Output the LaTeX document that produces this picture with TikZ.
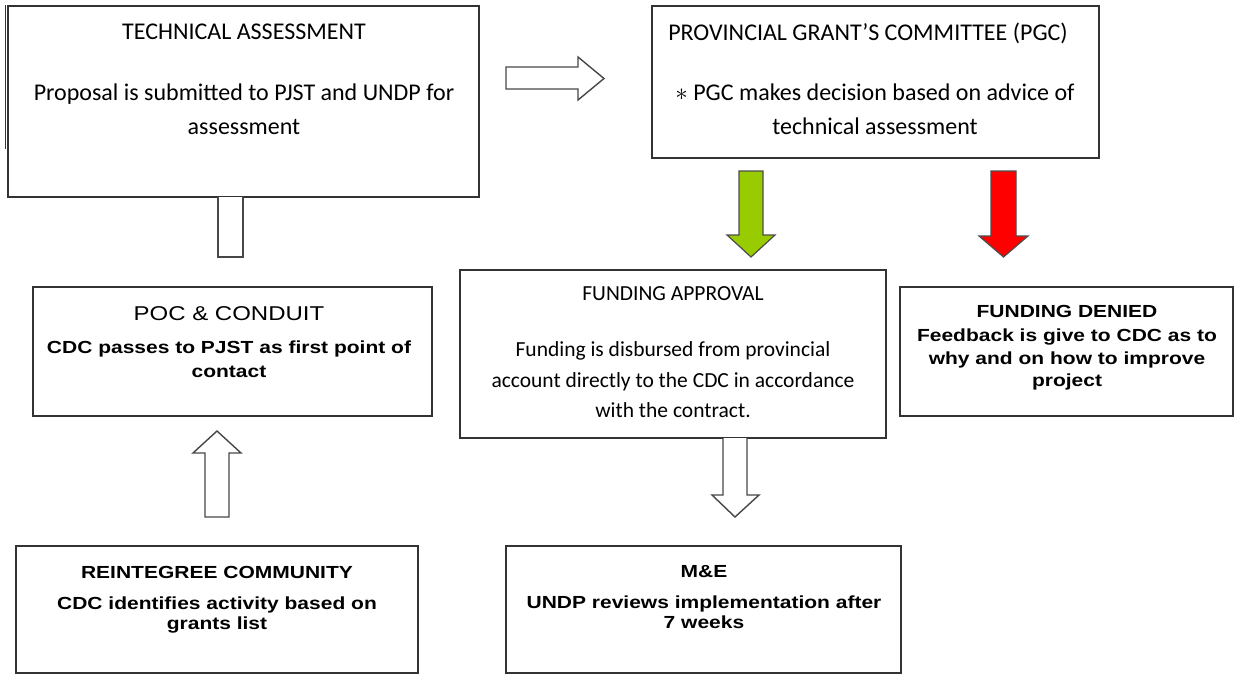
\documentclass[tikz,border=0pt]{standalone}
\usepackage{fontspec}
\setmainfont{Carlito}
\newfontfamily\calibri{Carlito}
\newfontfamily\arialw[FakeStretch=1.2]{Liberation Sans}
\usetikzlibrary{fit}
\begin{document}
\begin{tikzpicture}[x=1pt,y=-1pt,
  box/.style={draw=black!80, line width=1.3pt, inner sep=0pt},
  calbig/.style={font=\calibri\fontsize{24}{34}\selectfont, align=center, inner sep=0pt, anchor=base},
  calmid/.style={font=\calibri\fontsize{21.5}{30.5}\selectfont, align=center, inner sep=0pt, anchor=base},
  arbold/.style={font=\arialw\bfseries\fontsize{17.5}{#1}\selectfont, align=center, inner sep=0pt, anchor=base},
  arplain/.style={font=\arialw\fontsize{20}{24}\selectfont, align=center, inner sep=0pt, anchor=base},
  hollow/.style={draw=black!72, line width=1.4pt, fill=white, line join=miter},
  solid/.style={draw=black!70, line width=1.2pt, line join=miter, fill=#1}
]
\definecolor{yesgreen}{RGB}{153,204,0}
\definecolor{nored}{RGB}{255,0,0}
\useasboundingbox (0,0) rectangle (1236,675);

% ---- boxes ----
\node[box, fit={(8,6) (479,197)}] (tech) {};
\node[box, fit={(652,6) (1099,158)}] (pgc) {};
\node[box, fit={(33,287) (432,416)}] (poc) {};
\node[box, fit={(460,270) (886,438)}] (fund) {};
\node[box, fit={(900,287) (1233,416)}] (deny) {};
\node[box, fit={(16,546) (418,673)}] (reint) {};
\node[box, fit={(506,546) (901,673)}] (me) {};
\draw[black!80, line width=1pt] ([xshift=-1.6pt]tech.north west) -- ++(0,144);

% ---- texts (multi-line nodes sit on the baseline of their last line) ----
\node[calbig] (tech-t) at (244,39.7) {TECHNICAL ASSESSMENT};
\node[calbig] (tech-b) at (244,134) {Proposal is submitted to PJST and UNDP for\\assessment};

\node[calbig] (pgc-t) at (868,40.7) {PROVINCIAL GRANT’S COMMITTEE (PGC)};
\node[calbig] (pgc-b) at (875,134) {$\ast$ PGC makes decision based on advice of\\technical assessment};

\node[calmid] (fund-t) at (673,300) {FUNDING APPROVAL};
\node[calmid] (fund-b) at (673,417.5) {Funding is disbursed from provincial\\account directly to the CDC in accordance\\with the contract.};

\node[arplain] (poc-t) at (229,320) {POC \& CONDUIT};
\node[arbold=23.5] (poc-b) at (229,377) {CDC passes to PJST as first point of\\contact};

\node[arbold=22.5] (deny-t) at (1067,317.3) {FUNDING DENIED};
\node[arbold=22.5] (deny-b) at (1067,386.5) {Feedback is give to CDC as to\\why and on how to improve\\project};

\node[arbold=19.5] (reint-t) at (217,578.3) {REINTEGREE COMMUNITY};
\node[arbold=19.5] (reint-b) at (217,629) {CDC identifies activity based on\\grants list};

\node[arbold=20] (me-t) at (704,577.3) {M\&E};
\node[arbold=20] (me-b) at (704,628.5) {UNDP reviews implementation after\\7 weeks};

% ---- block arrows ----
% technical assessment -> committee
\draw[hollow] (506,67) -- (578,67) -- (578,57) -- (604,78.5) -- (578,100) -- (578,89) -- (506,89) -- cycle;
% stub under the technical assessment box
\draw[hollow] (218,197) -- (218,257) -- (243,257) -- (243,197);
% community -> POC
\draw[hollow] (205,517) -- (205,453) -- (193,453) -- (217,431) -- (241,453) -- (229,453) -- (229,517) -- cycle;
% approval -> M&E
\draw[hollow] (723,438) -- (723,495) -- (712,495) -- (735,517) -- (759,495) -- (747,495) -- (747,438);
% committee -> approval / denial
\draw[solid=yesgreen] (739,171) -- (763,171) -- (763,235) -- (775,235) -- (751,257) -- (727,235) -- (739,235) -- cycle;
\draw[solid=nored] (991,171) -- (1016,171) -- (1016,236) -- (1028,236) -- (1003.5,257) -- (979,236) -- (991,236) -- cycle;
\end{tikzpicture}
\end{document}
